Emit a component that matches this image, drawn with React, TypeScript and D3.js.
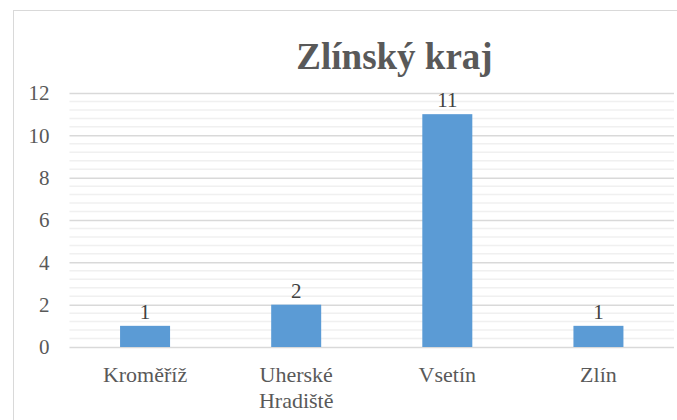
import React, { useEffect, useRef } from "react";
import * as d3 from "d3";

const width = 677;
const height = 420;
const margin = { top: 93, right: 3, bottom: 73, left: 69.5 };

// data
const categories = ["Kroměříž", "Uherské Hradiště", "Vsetín", "Zlín"];
const values = [1, 2, 11, 1];
const yTicks = [0, 2, 4, 6, 8, 10, 12];
const title = "Zlínský kraj";

const font = "Times New Roman";
const textColor = "#595959";

export default function App() {
  const ref = useRef<SVGSVGElement>(null);

  useEffect(() => {
    const svg = d3.select(ref.current);
    svg.selectAll("*").remove();

    const y = d3.scaleLinear().domain([0, 12]).range([height - margin.bottom, margin.top]);
    const x = d3.scaleBand().domain(categories).range([margin.left, width - margin.right]);
    const cx = (c: string) => (x(c) as number) + x.bandwidth() / 2;
    const bw = 50;

    svg.append("rect").attr("width", width).attr("height", height).attr("fill", "#fff");
    svg.append("rect")
      .attr("x", 13.5).attr("y", 10.5)
      .attr("width", width + 100).attr("height", height + 100)
      .attr("fill", "none").attr("stroke", "#d9d9d9");

    svg.append("text")
      .attr("x", 394.5).attr("y", 69)
      .attr("text-anchor", "middle")
      .attr("font-family", font)
      .attr("font-weight", "bold")
      .attr("font-size", 37)
      .attr("fill", textColor)
      .text(title);

    // minor gridlines every 0.4
    const minor = d3.range(0, 12.001, 0.4).filter((t) => Math.abs(t / 2 - Math.round(t / 2)) > 0.01);
    svg.append("g").selectAll("line").data(minor).join("line")
      .attr("x1", margin.left).attr("x2", width - margin.right)
      .attr("y1", (d) => y(d)).attr("y2", (d) => y(d))
      .attr("stroke", "#f0f0f0").attr("stroke-width", 1.5);

    const yAxis = svg.append("g").attr("transform", "translate(" + margin.left + ",0)")
      .call(d3.axisLeft(y).tickValues(yTicks).tickSize(-(width - margin.right - margin.left)).tickPadding(20));
    yAxis.select(".domain").remove();
    yAxis.selectAll(".tick line").attr("stroke", "#d9d9d9").attr("stroke-width", 1.5);
    yAxis.selectAll(".tick text")
      .attr("font-family", font).attr("font-size", 21).attr("fill", textColor)
      .attr("dy", "0.33em");

    const bars = svg.append("g").selectAll("g").data(values).join("g");
    bars.append("rect")
      .attr("x", (d, i) => cx(categories[i]) - bw / 2)
      .attr("y", (d) => y(d))
      .attr("width", bw)
      .attr("height", (d) => y(0) - y(d))
      .attr("fill", "#5b9bd5");
    bars.append("text")
      .attr("x", (d, i) => cx(categories[i]))
      .attr("y", (d) => y(d) - 7)
      .attr("text-anchor", "middle")
      .attr("font-family", font).attr("font-size", 21).attr("fill", "#404040")
      .text((d) => d);

    const labels = svg.append("g").selectAll("text").data(categories).join("text")
      .attr("x", (d) => cx(d)).attr("y", 382)
      .attr("text-anchor", "middle")
      .attr("font-family", font).attr("font-size", 22).attr("fill", textColor);
    labels.selectAll("tspan")
      .data((d) => (d === "Uherské Hradiště" ? ["Uherské", "Hradiště"] : [d]))
      .join("tspan")
      .attr("x", function () { return (this.parentNode as SVGTextElement).getAttribute("x"); })
      .attr("dy", (d, j) => (j === 0 ? 0 : 26))
      .text((d) => d);
  }, []);

  return (
    <div style={{ position: "fixed", left: 0, top: 0, width, height, background: "#fff" }}>
      <svg ref={ref} width={width} height={height} />
    </div>
  );
}
